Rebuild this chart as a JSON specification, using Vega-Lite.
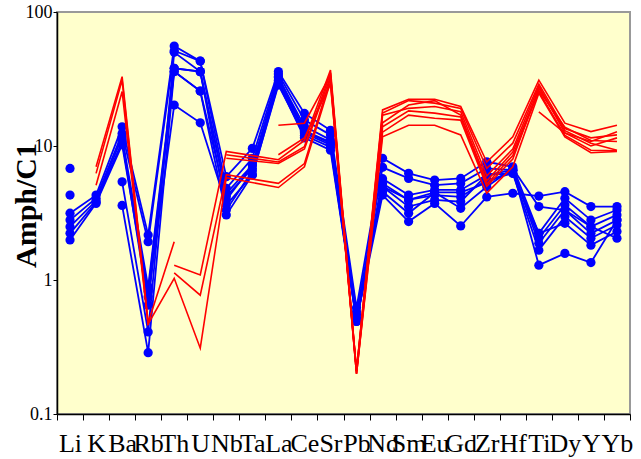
{
  "$schema": "https://vega.github.io/schema/vega-lite/v6.json",
  "width": 573,
  "height": 402,
  "autosize": {"type": "none"},
  "padding": {"left": 57, "top": 12, "right": 11, "bottom": 45},
  "background": "white",
  "config": {
    "view": {"fill": "#FFFFCC", "stroke": "#999999", "strokeWidth": 2},
    "axis": {"grid": false, "domainColor": "black", "domainWidth": 1.5, "tickColor": "black", "labelColor": "black", "labelFont": "Liberation Serif"}
  },
  "datasets": {
    "blue": [
      {"s":"B1","el":"Li","v":3.15},{"s":"B1","el":"K","v":4.3},{"s":"B1","el":"Ba","v":13.9},{"s":"B1","el":"Rb","v":2.17},{"s":"B1","el":"Th","v":55.7},{"s":"B1","el":"U","v":43},{"s":"B1","el":"Nb","v":5.9},{"s":"B1","el":"Ta","v":9.6},{"s":"B1","el":"La","v":35.9},{"s":"B1","el":"Ce","v":17.5},{"s":"B1","el":"Sr","v":13.1},{"s":"B1","el":"Pb","v":0.62},{"s":"B1","el":"Nd","v":8.1},{"s":"B1","el":"Sm","v":6.25},{"s":"B1","el":"Eu","v":5.57},{"s":"B1","el":"Gd","v":5.73},{"s":"B1","el":"Zr","v":7.63},{"s":"B1","el":"Hf","v":7.0},{"s":"B1","el":"Ti","v":2.23},{"s":"B1","el":"Dy","v":4.07},{"s":"B1","el":"Y","v":2.8},{"s":"B1","el":"Yb","v":3.33},
      {"s":"B2","el":"Li","v":2.8},{"s":"B2","el":"K","v":4.07},{"s":"B2","el":"Ba","v":12.4},{"s":"B2","el":"Rb","v":1.93},{"s":"B2","el":"Th","v":51.4},{"s":"B2","el":"U","v":43},{"s":"B2","el":"Nb","v":4.83},{"s":"B2","el":"Ta","v":8.1},{"s":"B2","el":"La","v":34.4},{"s":"B2","el":"Ce","v":15.6},{"s":"B2","el":"Sr","v":12.1},{"s":"B2","el":"Pb","v":0.55},{"s":"B2","el":"Nd","v":6.93},{"s":"B2","el":"Sm","v":5.73},{"s":"B2","el":"Eu","v":5.1},{"s":"B2","el":"Gd","v":5.26},{"s":"B2","el":"Zr","v":6.8},{"s":"B2","el":"Hf","v":6.6},{"s":"B2","el":"Ti","v":2.05},{"s":"B2","el":"Dy","v":3.63},{"s":"B2","el":"Y","v":2.5},{"s":"B2","el":"Yb","v":3.06},
      {"s":"B3","el":"Li","v":2.5},{"s":"B3","el":"K","v":3.9},{"s":"B3","el":"Ba","v":11.7},{"s":"B3","el":"Rb","v":0.89},{"s":"B3","el":"Th","v":38},{"s":"B3","el":"U","v":35.9},{"s":"B3","el":"Nb","v":4.43},{"s":"B3","el":"Ta","v":7.2},{"s":"B3","el":"La","v":32.5},{"s":"B3","el":"Ce","v":14.0},{"s":"B3","el":"Sr","v":11.1},{"s":"B3","el":"Pb","v":0.52},{"s":"B3","el":"Nd","v":5.7},{"s":"B3","el":"Sm","v":4.3},{"s":"B3","el":"Eu","v":4.7},{"s":"B3","el":"Gd","v":4.7},{"s":"B3","el":"Zr","v":6.08},{"s":"B3","el":"Hf","v":6.6},{"s":"B3","el":"Ti","v":1.88},{"s":"B3","el":"Dy","v":3.33},{"s":"B3","el":"Y","v":2.23},{"s":"B3","el":"Yb","v":2.8},
      {"s":"B4","el":"Li","v":2.23},{"s":"B4","el":"K","v":3.8},{"s":"B4","el":"Ba","v":10.8},{"s":"B4","el":"Rb","v":0.82},{"s":"B4","el":"Th","v":35.9},{"s":"B4","el":"U","v":25.7},{"s":"B4","el":"Nb","v":3.96},{"s":"B4","el":"Ta","v":7.2},{"s":"B4","el":"La","v":31},{"s":"B4","el":"Ce","v":12.5},{"s":"B4","el":"Sr","v":10.2},{"s":"B4","el":"Pb","v":0.49},{"s":"B4","el":"Nd","v":5.26},{"s":"B4","el":"Sm","v":3.96},{"s":"B4","el":"Eu","v":4.3},{"s":"B4","el":"Gd","v":4.17},{"s":"B4","el":"Zr","v":5.57},{"s":"B4","el":"Hf","v":6.25},{"s":"B4","el":"Ti","v":1.67},{"s":"B4","el":"Dy","v":2.97},{"s":"B4","el":"Y","v":2.05},{"s":"B4","el":"Yb","v":2.57},
      {"s":"B5","el":"Li","v":1.99},{"s":"B5","el":"K","v":3.73},{"s":"B5","el":"Ba","v":10.2},{"s":"B5","el":"Rb","v":0.75},{"s":"B5","el":"Th","v":20.2},{"s":"B5","el":"U","v":14.9},{"s":"B5","el":"Nb","v":3.63},{"s":"B5","el":"Ta","v":6.08},{"s":"B5","el":"La","v":29.4},{"s":"B5","el":"Ce","v":11.5},{"s":"B5","el":"Sr","v":9.3},{"s":"B5","el":"Pb","v":0.49},{"s":"B5","el":"Nd","v":4.97},{"s":"B5","el":"Sm","v":3.53},{"s":"B5","el":"Eu","v":3.96},{"s":"B5","el":"Gd","v":3.84},{"s":"B5","el":"Zr","v":6.08},{"s":"B5","el":"Hf","v":6.25},{"s":"B5","el":"Ti","v":2.23},{"s":"B5","el":"Dy","v":2.65},{"s":"B5","el":"Y","v":1.82},{"s":"B5","el":"Yb","v":2.3},
      {"s":"B6a","el":"Li","v":6.8},
      {"s":"B6","el":"Ba","v":5.4},{"s":"B6","el":"Rb","v":0.41},{"s":"B6","el":"Th","v":50},{"s":"B6","el":"U","v":35.9},{"s":"B6","el":"Nb","v":3.33},{"s":"B6","el":"Ta","v":6.5},{"s":"B6","el":"La","v":33},{"s":"B6","el":"Ce","v":13},{"s":"B6","el":"Sr","v":10.7},{"s":"B6","el":"Pb","v":0.58},{"s":"B6","el":"Nd","v":4.56},{"s":"B6","el":"Sm","v":3.15},{"s":"B6","el":"Eu","v":4.5},{"s":"B6","el":"Gd","v":3.43},{"s":"B6","el":"Zr","v":4.97},{"s":"B6","el":"Hf","v":6.8},{"s":"B6","el":"Ti","v":3.53},{"s":"B6","el":"Dy","v":3.33},{"s":"B6","el":"Y","v":2.5},{"s":"B6","el":"Yb","v":2.05},
      {"s":"B7a","el":"Li","v":4.3},
      {"s":"B7","el":"Ba","v":3.6},{"s":"B7","el":"Rb","v":0.287},{"s":"B7","el":"Th","v":36},{"s":"B7","el":"U","v":25.7},{"s":"B7","el":"Nb","v":3.06},{"s":"B7","el":"Ta","v":6.08},{"s":"B7","el":"La","v":28.5},{"s":"B7","el":"Ce","v":12},{"s":"B7","el":"Sr","v":9.8},{"s":"B7","el":"Pb","v":0.5},{"s":"B7","el":"Nd","v":4.3},{"s":"B7","el":"Sm","v":2.73},{"s":"B7","el":"Eu","v":3.73},{"s":"B7","el":"Gd","v":2.53},{"s":"B7","el":"Zr","v":4.17},{"s":"B7","el":"Hf","v":4.44},{"s":"B7","el":"Ti","v":4.23},{"s":"B7","el":"Dy","v":4.56},{"s":"B7","el":"Y","v":3.53},{"s":"B7","el":"Yb","v":3.53},
      {"s":"B8","el":"Ba","v":11.2},{"s":"B8","el":"Rb","v":0.65},{"s":"B8","el":"Th","v":38},{"s":"B8","el":"U","v":35.9},{"s":"B8","el":"Nb","v":4.2},{"s":"B8","el":"Ta","v":6.8},{"s":"B8","el":"La","v":30},{"s":"B8","el":"Ce","v":12.8},{"s":"B8","el":"Sr","v":10.5},{"s":"B8","el":"Pb","v":0.5},{"s":"B8","el":"Nd","v":5.0},{"s":"B8","el":"Sm","v":3.96},{"s":"B8","el":"Eu","v":4.5},{"s":"B8","el":"Gd","v":4.5},{"s":"B8","el":"Zr","v":5.3},{"s":"B8","el":"Hf","v":6.6},{"s":"B8","el":"Ti","v":1.29},{"s":"B8","el":"Dy","v":1.58},{"s":"B8","el":"Y","v":1.35},{"s":"B8","el":"Yb","v":2.8}
    ],
    "red": [
      {"s":"R1","el":"K","v":7.0},{"s":"R1","el":"Ba","v":32.9},{"s":"R1","el":"Rb","v":0.48},{"s":"R1","el":"Th","v":1.93},
      {"s":"R2","el":"K","v":6.25},{"s":"R2","el":"Ba","v":31},{"s":"R2","el":"Rb","v":0.47},{"s":"R2","el":"Th","v":1.03},{"s":"R2","el":"U","v":0.31},{"s":"R2","el":"Nb","v":5.8},{"s":"R2","el":"La","v":4.9},{"s":"R2","el":"Ce","v":7.0},{"s":"R2","el":"Sr","v":30},{"s":"R2","el":"Pb","v":0.2},{"s":"R2","el":"Nd","v":11.7},{"s":"R2","el":"Sm","v":14.3},{"s":"R2","el":"Eu","v":14.3},{"s":"R2","el":"Gd","v":12.1},{"s":"R2","el":"Zr","v":4.45},{"s":"R2","el":"Hf","v":7.0},{"s":"R2","el":"Ti","v":24.8},{"s":"R2","el":"Dy","v":11.7},{"s":"R2","el":"Y","v":8.9},{"s":"R2","el":"Yb","v":9.1},
      {"s":"R3","el":"K","v":5.1},{"s":"R3","el":"Ba","v":25.5},{"s":"R3","el":"Rb","v":0.46},
      {"s":"R4","el":"Th","v":1.29},{"s":"R4","el":"U","v":1.09},{"s":"R4","el":"Nb","v":9.1},{"s":"R4","el":"La","v":7.9},{"s":"R4","el":"Ce","v":11.0},{"s":"R4","el":"Sr","v":36.9},{"s":"R4","el":"Pb","v":0.21},{"s":"R4","el":"Nd","v":18.6},{"s":"R4","el":"Sm","v":22.3},{"s":"R4","el":"Eu","v":22.3},{"s":"R4","el":"Gd","v":19.7},{"s":"R4","el":"Zr","v":7.6},{"s":"R4","el":"Hf","v":11.7},{"s":"R4","el":"Ti","v":31},{"s":"R4","el":"Dy","v":14.8},{"s":"R4","el":"Y","v":12.8},{"s":"R4","el":"Yb","v":14.3},
      {"s":"R5","el":"Th","v":1.13},{"s":"R5","el":"U","v":0.77},{"s":"R5","el":"Nb","v":6.1},{"s":"R5","el":"La","v":5.26},{"s":"R5","el":"Ce","v":7.4},{"s":"R5","el":"Sr","v":32},{"s":"R5","el":"Pb","v":0.2},{"s":"R5","el":"Nd","v":12.7},{"s":"R5","el":"Sm","v":17.0},{"s":"R5","el":"Eu","v":16.1},{"s":"R5","el":"Gd","v":15.6},{"s":"R5","el":"Zr","v":5.0},{"s":"R5","el":"Hf","v":8.0},{"s":"R5","el":"Ti","v":27},{"s":"R5","el":"Dy","v":13},{"s":"R5","el":"Y","v":10.5},{"s":"R5","el":"Yb","v":9.3},
      {"s":"R6","el":"Nb","v":8.6},{"s":"R6","el":"La","v":7.6},{"s":"R6","el":"Ce","v":9.9},{"s":"R6","el":"Sr","v":35},{"s":"R6","el":"Pb","v":0.21},{"s":"R6","el":"Nd","v":17.6},{"s":"R6","el":"Sm","v":21.8},{"s":"R6","el":"Eu","v":20.9},{"s":"R6","el":"Gd","v":19.1},{"s":"R6","el":"Zr","v":6.8},{"s":"R6","el":"Hf","v":10.5},{"s":"R6","el":"Ti","v":29},{"s":"R6","el":"Dy","v":13.5},{"s":"R6","el":"Y","v":11.5},{"s":"R6","el":"Yb","v":12.1},
      {"s":"R7","el":"Nb","v":8.1},{"s":"R7","el":"La","v":7.4},{"s":"R7","el":"Ce","v":9.5},{"s":"R7","el":"Sr","v":33},{"s":"R7","el":"Pb","v":0.21},{"s":"R7","el":"Nd","v":17.0},{"s":"R7","el":"Sm","v":19.1},{"s":"R7","el":"Eu","v":19.7},{"s":"R7","el":"Gd","v":18.0},{"s":"R7","el":"Zr","v":6.0},{"s":"R7","el":"Hf","v":9.5},{"s":"R7","el":"Ti","v":28},{"s":"R7","el":"Dy","v":12.5},{"s":"R7","el":"Y","v":10.0},{"s":"R7","el":"Yb","v":11.5},
      {"s":"R8","el":"La","v":14.3},{"s":"R8","el":"Ce","v":14.8},{"s":"R8","el":"Sr","v":34},{"s":"R8","el":"Pb","v":0.2},{"s":"R8","el":"Nd","v":14.9},{"s":"R8","el":"Sm","v":20.2},{"s":"R8","el":"Eu","v":21.8},{"s":"R8","el":"Gd","v":17.0},{"s":"R8","el":"Zr","v":5.5},{"s":"R8","el":"Hf","v":9.0},{"s":"R8","el":"Ti","v":26},{"s":"R8","el":"Dy","v":13.8},{"s":"R8","el":"Y","v":11.0},{"s":"R8","el":"Yb","v":10.8},
      {"s":"R9","el":"La","v":8.6},{"s":"R9","el":"Ce","v":11.5},{"s":"R9","el":"Sr","v":29},{"s":"R9","el":"Pb","v":0.21},{"s":"R9","el":"Nd","v":13.9},{"s":"R9","el":"Sm","v":18.3},{"s":"R9","el":"Eu","v":17.6},{"s":"R9","el":"Gd","v":16.5},{"s":"R9","el":"Zr","v":5.2},{"s":"R9","el":"Hf","v":8.5},{"s":"R9","el":"Ti","v":25.5},{"s":"R9","el":"Dy","v":12.0},{"s":"R9","el":"Y","v":9.3},{"s":"R9","el":"Yb","v":9.2},
      {"s":"R10","el":"Ti","v":18.0},{"s":"R10","el":"Dy","v":12.5},{"s":"R10","el":"Y","v":10.8},{"s":"R10","el":"Yb","v":12.8}
    ]
  },
  "encoding": {
    "x": {
      "field": "el", "type": "nominal",
      "scale": {"type": "band", "domain": ["Li","K","Ba","Rb","Th","U","Nb","Ta","La","Ce","Sr","Pb","Nd","Sm","Eu","Gd","Zr","Hf","Ti","Dy","Y","Yb"], "paddingInner": 0, "paddingOuter": 0},
      "axis": {"title": null, "labelAngle": 0, "labelFontSize": 26, "labelOverlap": false, "labelBound": false, "labelFlush": false, "labelBaseline": "alphabetic", "labelPadding": 31, "tickBand": "extent", "tickSize": 6}
    },
    "y": {
      "field": "v", "type": "quantitative",
      "scale": {"type": "log", "domain": [0.1, 100], "nice": false},
      "axis": {"values": [0.1, 1, 10, 100], "format": "~g", "labelFontSize": 18, "labelPadding": 1, "tickSize": 4, "title": "Amph/C1", "titleFont": "Liberation Serif", "titleFontSize": 30, "titleFontWeight": "bold", "titleColor": "black", "titleAngle": 270, "titleBaseline": "alphabetic", "titleAlign": "center", "titleX": -22, "titleY": 193}
    }
  },
  "layer": [
    {"data": {"name": "blue"}, "mark": {"type": "line", "color": "#0000FF", "strokeWidth": 1.8}, "encoding": {"detail": {"field": "s"}, "order": {"value": null}}},
    {"data": {"name": "blue"}, "mark": {"type": "circle", "color": "#0000FF", "size": 85, "opacity": 1}},
    {"data": {"name": "red"}, "mark": {"type": "line", "color": "#FF0000", "strokeWidth": 1.6}, "encoding": {"detail": {"field": "s"}, "order": {"value": null}}}
  ]
}
